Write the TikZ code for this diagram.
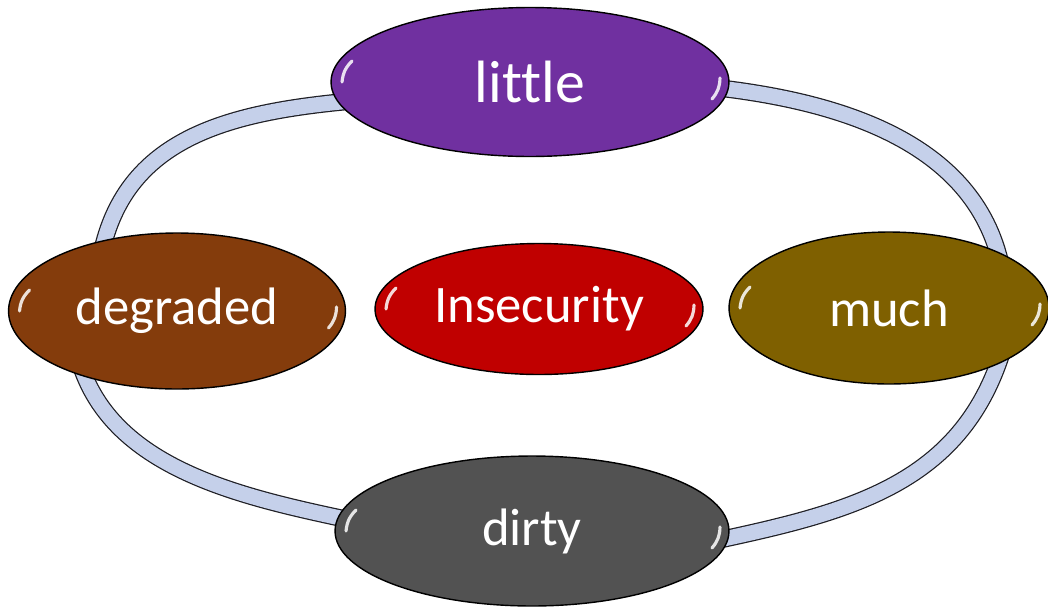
\documentclass[tikz,border=0pt]{standalone}
\usepackage{fontspec}
\setmainfont{Carlito}[Ligatures=NoCommon]
\usetikzlibrary{shapes.geometric, backgrounds}

\definecolor{ringedge}{HTML}{1E1E24}
\definecolor{ringfill}{HTML}{C5D0EA}
\definecolor{littlecol}{HTML}{7030A0}
\definecolor{degradedcol}{HTML}{843C0C}
\definecolor{insecuritycol}{HTML}{C00000}
\definecolor{muchcol}{HTML}{7F6000}
\definecolor{dirtycol}{HTML}{525252}

\tikzset{
	bulle/.style={ellipse, draw=black, line width=0.8pt, text=white, inner sep=0pt,
		font=\fontsize{30}{36}\selectfont,
		path picture={
			\draw[white, line width=1.8pt, line cap=round, opacity=0.85]
				([shift={(0.42cm,0.42cm)}]path picture bounding box.west)
				to[bend right=20] ([shift={(0.22cm,0.0cm)}]path picture bounding box.west);
			\draw[white, line width=1.8pt, line cap=round, opacity=0.85]
				([shift={(-0.34cm,-0.34cm)}]path picture bounding box.east)
				to[bend right=20] ([shift={(-0.18cm,0.08cm)}]path picture bounding box.east);
		}},
	anneau/.style={draw=ringedge, line width=0.7pt, double=ringfill, double distance=0.3cm,
		shorten <=-12pt, shorten >=-12pt},
}

\begin{document}
\begin{tikzpicture}[x=0.02cm, y=-0.02cm]

	\useasboundingbox (0,0) rectangle (1048,606);

	% bulles
	\node[bulle, fill=littlecol, minimum width=7.96cm, minimum height=2.98cm,
		font=\fontsize{34}{40}\selectfont] (little) at (530,82) {little};
	\node[bulle, fill=degradedcol, minimum width=6.74cm, minimum height=3.12cm] (degraded) at (177,311) {degraded};
	\node[bulle, fill=insecuritycol, minimum width=6.56cm, minimum height=2.62cm] (insecurity) at (539,309) {Insecurity};
	\node[bulle, fill=muchcol, minimum width=6.4cm, minimum height=3.04cm] (much) at (889,308) {much};
	\node[bulle, fill=dirtycol, minimum width=7.88cm, minimum height=3.0cm] (dirty) at (532,531) {dirty};

	% anneau derriere les bulles
	\begin{scope}[on background layer]
		\draw[anneau] (little.186) to[out=185, in=80] (degraded.136);
		\draw[anneau] (degraded.215) to[out=285, in=168, looseness=0.85] (dirty.176);
		\draw[anneau] (dirty.358) to[out=12, in=254] (much.333);
		\draw[anneau] (much.27) to[out=100, in=-6, looseness=0.9] (little.358);
	\end{scope}

\end{tikzpicture}
\end{document}
